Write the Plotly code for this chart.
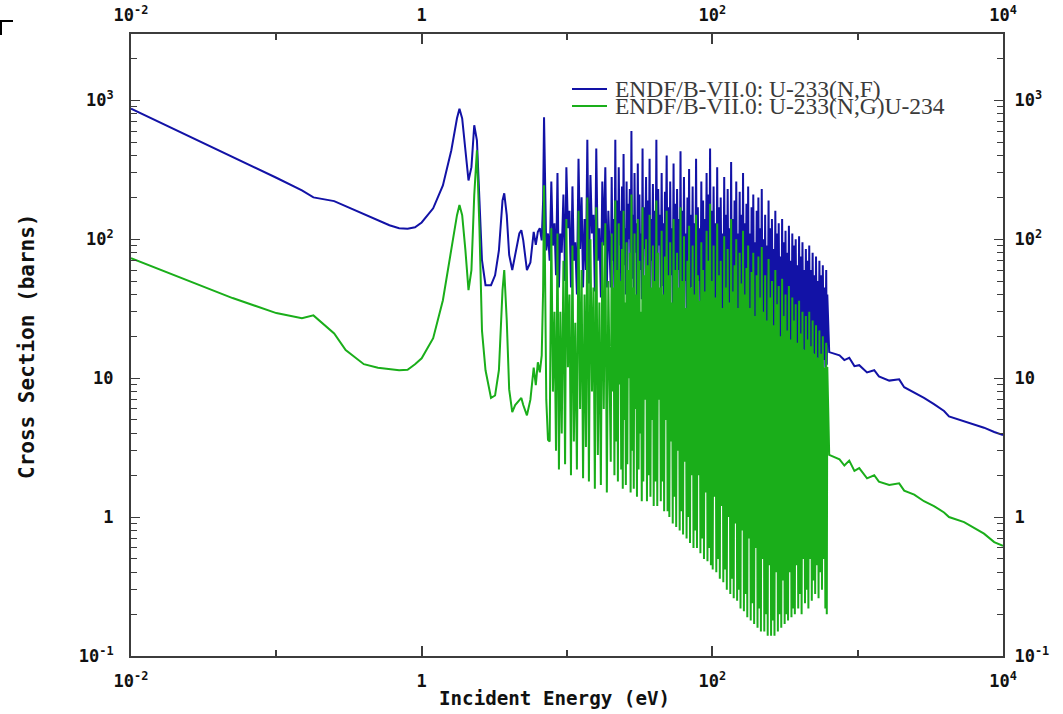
import numpy as np
import plotly.graph_objects as go

# ---- thermal / low resolved region (eV, barns) ----
low_e = [0.01, 0.02, 0.05, 0.1, 0.15, 0.18, 0.25, 0.3, 0.4, 0.5, 0.6, 0.7, 0.8, 0.9,
         1.0, 1.2, 1.4, 1.6, 1.75, 1.82, 1.9, 2.0, 2.1, 2.2, 2.3, 2.4, 2.5, 2.6, 2.75,
         3.0, 3.2, 3.4, 3.6, 3.7, 3.85, 4.0, 4.2, 4.4, 4.7, 4.85, 5.0, 5.3, 5.6, 5.9,
         6.1, 6.3, 6.5, 6.7, 6.85, 6.95, 7.05, 7.2, 7.4]
low_fission = [870, 618, 392, 277, 225, 200, 188, 173, 151, 137, 126, 120, 119, 122,
               132, 167, 244, 437, 742, 870, 740, 437, 265, 330, 661, 515, 190, 70.6, 46.7,
               46.7, 55, 83, 190, 214, 149, 77, 60, 77, 110, 116, 98, 60, 68, 113,
               91, 113, 120, 98, 190, 755, 225, 83, 110]
low_capture = [73, 55, 37.7, 29.4, 27, 28.3, 21, 15.9, 12.6, 11.9, 11.6, 11.4, 11.5, 12.6,
               13.9, 19.4, 36.4, 83, 149, 176, 149, 83, 43, 60, 207, 437, 116, 22, 11.4,
               7.2, 7.5, 11.4, 43, 60, 26, 8.3, 5.7, 6.4, 7, 7.2, 6.4, 5.4, 7, 11.9,
               8.9, 13, 11, 14.6, 43, 245, 70, 7, 3.6]

# ---- resolved resonance region (alternating minima / maxima) ----
res_e = [7.6, 7.8, 8.0, 8.2, 8.4, 8.6, 8.8, 9.0, 9.2, 9.45,
         9.7, 9.9, 10.15, 10.4, 10.65, 10.9, 11.15, 11.4, 11.7, 12.0,
         12.3, 12.6, 12.9, 13.2, 13.5, 13.8, 14.15, 14.5, 14.85, 15.2,
         15.55, 15.9, 16.3, 16.7, 17.1, 17.5, 17.9, 18.35, 18.8, 19.25,
         20.0, 20.3, 20.6, 20.9, 21.2, 21.5, 21.8, 22.1, 22.4, 22.7,
         23.0, 23.3, 23.6, 23.9, 24.2, 24.5, 24.8, 25.1, 25.4, 25.7,
         26.0, 26.35, 26.7, 27.05, 27.4, 27.75, 28.1, 28.45, 28.8, 29.15,
         29.5, 29.9, 30.3, 30.7, 31.1, 31.5, 31.9, 32.3, 32.7, 33.1,
         33.5, 34.0, 34.5, 35.0, 35.5, 36.0, 36.5, 37.0, 37.5, 38.0,
         38.5, 39.0, 39.5, 40.0, 40.6, 41.2, 41.8, 42.4, 43.0, 43.6,
         44.2, 44.8, 45.4, 46.0, 46.6, 47.2, 47.8, 48.5, 49.2, 49.9,
         50.6, 51.3, 52.0, 52.7, 53.4, 54.1, 54.8, 55.6, 56.4, 57.2,
         58.0, 58.8, 59.6, 60.4, 61.2, 62.0, 62.9, 63.8, 64.7, 65.6,
         66.5, 67.4, 68.3, 69.2, 70.2, 71.2, 72.2, 73.2, 74.2, 75.2,
         76.2, 77.3, 78.4, 79.5, 80.6, 81.7, 82.8, 84.0, 85.2, 86.4,
         87.6, 88.8, 90.0, 91.3, 92.6, 93.9, 95.2, 96.5, 97.8, 99.2,
         100.6, 102, 103.5, 105, 106.5, 108, 109.5, 111, 112.6, 114.2,
         115.8, 117.4, 119, 120.7, 122.4, 124.1, 125.8, 127.5, 129.3, 131.1,
         132.9, 134.7, 136.5, 138.4, 140.3, 142.2, 144.1, 146.1, 148.1, 150.1,
         152.1, 154.2, 156.3, 158.4, 160.5, 162.7, 164.9, 167.1, 169.4, 171.7,
         174, 176.4, 178.8, 181.2, 183.7, 186.2, 188.7, 191.3, 193.9, 196.5,
         199.2, 201.9, 204.6, 207.4, 210.2, 213, 215.9, 218.8, 221.8, 224.8,
         227.8, 230.9, 234, 237.2, 240.4, 243.7, 247, 250.3, 253.7, 257.1,
         260.6, 264.1, 267.7, 271.3, 275, 278.7, 282.5, 286.3, 290.2, 294.1,
         298.1, 302.1, 306.2, 310.3, 314.5, 318.8, 323.1, 327.5, 331.9, 336.4,
         341, 345.6, 350.3, 355, 359.8, 364.7, 369.6, 374.6, 379.7, 384.8,
         390, 395.3, 400.6, 406, 411.5, 417.1, 422.7, 428.4, 434.2, 440.1,
         446, 452, 458.1, 464.3, 470.6, 477, 483.4, 489.9, 496.5, 503.2,
         510, 516.9, 523.9, 531, 538.2, 545.5, 552.9, 560.4, 568, 575.7,
         583.5, 591.4, 599.4, 607.5, 613, 618]
res_fission = [70, 260, 90, 130, 55, 300, 45, 110, 80, 210,
               50, 330, 120, 160, 45, 240, 70, 95, 40, 380,
               85, 200, 45, 140, 60, 520, 48, 290, 110, 150,
               42, 450, 70, 120, 38, 260, 90, 330, 45, 160,
               45, 280, 70, 140, 40, 520, 55, 190, 42, 330,
               90, 160, 44, 240, 38, 410, 65, 120, 40, 260,
               48, 180, 100, 230, 39, 600, 52, 150, 41, 300,
               80, 130, 38, 350, 45, 210, 60, 110, 37, 450,
               42, 170, 85, 280, 36, 190, 48, 380, 39, 140,
               70, 250, 37, 160, 44, 520, 36, 230, 90, 150,
               38, 300, 46, 130, 35, 220, 70, 400, 36, 170,
               33, 260, 55, 120, 32, 350, 40, 180, 31, 230,
               60, 140, 30, 430, 36, 160, 29, 280, 50, 110,
               30, 200, 34, 320, 28, 150, 45, 240, 28, 130,
               32, 380, 29, 170, 50, 120, 27, 260, 31, 190,
               27, 140, 40, 300, 26, 210, 30, 450, 26, 160,
               24, 240, 35, 130, 23, 330, 26, 170, 22, 200,
               32, 110, 22, 280, 25, 150, 21, 230, 30, 120,
               21, 360, 24, 140, 20, 190, 28, 260, 20, 110,
               23, 220, 19, 150, 26, 300, 19, 130, 22, 180,
               18, 240, 25, 110, 18, 170, 21, 210, 17, 95,
               22, 160, 17, 200, 20, 120, 16, 230, 19, 100,
               16, 150, 21, 90, 16, 190, 18, 120, 15, 140,
               20, 85, 15, 160, 17, 110, 15, 130, 19, 75,
               14, 140, 17, 95, 14, 115, 16, 80, 14, 125,
               18, 70, 13, 110, 15, 90, 13, 100, 17, 65,
               13, 105, 15, 75, 13, 95, 16, 60, 12.5, 85,
               15, 70, 12.5, 90, 14, 60, 12.5, 80, 15, 55,
               12.5, 75, 14, 50, 12, 70, 14, 55, 12, 65,
               13.5, 45, 12, 60, 12.5, 40]
res_capture = [3.5, 120, 8, 30, 3.0, 110, 2.2, 30, 4.0, 70,
               2.4, 140, 12, 40, 2.0, 90, 3.5, 25, 2.2, 160,
               6, 60, 1.9, 40, 3.2, 200, 1.8, 100, 8, 45,
               1.6, 170, 2.8, 35, 1.7, 95, 6, 130, 1.5, 50,
               2.5, 110, 8, 45, 2.0, 190, 3.5, 60, 1.8, 130,
               9, 50, 2.2, 85, 1.6, 160, 5, 35, 1.7, 95,
               2.4, 60, 10, 80, 1.5, 210, 3, 45, 1.6, 110,
               6, 40, 1.4, 140, 2.2, 70, 4, 30, 1.3, 170,
               1.8, 55, 7, 100, 1.3, 65, 2, 150, 1.4, 45,
               5, 90, 1.2, 50, 1.8, 190, 1.2, 80, 7, 45,
               1.3, 115, 1.8, 40, 1.1, 75, 5, 160, 1.1, 55,
               1.0, 95, 3.5, 35, 0.9, 140, 1.4, 60, 0.85, 80,
               3, 45, 0.8, 170, 1.1, 50, 0.75, 105, 2.5, 32,
               0.7, 70, 1.0, 125, 0.65, 45, 2, 90, 0.6, 40,
               0.8, 150, 0.6, 55, 2, 36, 0.55, 95, 0.7, 60,
               0.5, 42, 1.5, 115, 0.48, 70, 0.6, 180, 0.45, 50,
               0.42, 90, 1.4, 38, 0.4, 130, 0.5, 55, 0.36, 70,
               1.2, 32, 0.34, 105, 0.42, 45, 0.3, 85, 1.0, 35,
               0.28, 140, 0.36, 42, 0.26, 65, 0.9, 100, 0.25, 32,
               0.3, 80, 0.22, 48, 0.8, 115, 0.21, 40, 0.28, 62,
               0.19, 90, 0.7, 32, 0.18, 58, 0.24, 80, 0.17, 28,
               0.6, 55, 0.16, 75, 0.22, 38, 0.15, 88, 0.5, 30,
               0.15, 55, 0.2, 26, 0.14, 72, 0.45, 38, 0.14, 50,
               0.18, 24, 0.14, 60, 0.4, 34, 0.15, 46, 0.2, 20,
               0.16, 52, 0.35, 28, 0.17, 40, 0.2, 22, 0.18, 46,
               0.4, 19, 0.19, 38, 0.22, 26, 0.2, 34, 0.45, 18,
               0.22, 36, 0.28, 21, 0.2, 30, 0.5, 16, 0.24, 28,
               0.3, 19, 0.22, 30, 0.5, 17, 0.25, 26, 0.35, 15,
               0.28, 24, 0.45, 14, 0.26, 22, 0.4, 15, 0.3, 20,
               0.5, 12, 0.22, 18, 0.2, 12]

# ---- unresolved / smooth region ----
unres_e = [637, 750, 810, 875, 950, 1025, 1160, 1300, 1400, 1650, 1930, 2090,
           2450, 2860, 3350, 3930, 4250, 5400, 6300, 7400, 8700, 10000]
unres_fission = [15.4, 14.6, 13.5, 14.0, 12.2, 12.4, 11.0, 11.4, 10.3, 9.6, 9.8, 8.6,
                 7.9, 7.2, 6.5, 5.8, 5.3, 4.9, 4.6, 4.4, 4.1, 3.9]
unres_capture = [2.8, 2.6, 2.35, 2.55, 2.15, 2.25, 1.9, 2.0, 1.8, 1.7, 1.75, 1.55,
                 1.45, 1.3, 1.2, 1.08, 1.0, 0.92, 0.84, 0.76, 0.66, 0.62]

assert len(res_e) == len(res_fission) == len(res_capture)
assert len(low_e) == len(low_fission) == len(low_capture)
assert len(unres_e) == len(unres_fission) == len(unres_capture)

energy = low_e + res_e + unres_e
sigma_fission = low_fission + res_fission + unres_fission
sigma_capture = low_capture + res_capture + unres_capture

series_names = ["ENDF/B-VII.0: U-233(N,F)", "ENDF/B-VII.0: U-233(N,G)U-234"]
series_colors = ["#1212a6", "#1aae1a"]

x_decades = [0.01, 0.1, 1, 10, 100, 1000, 10000]
x_decade_text = ["10<sup>-2</sup>", "", "1", "", "10<sup>2</sup>", "", "10<sup>4</sup>"]
x_labeled = [0.01, 1, 100, 10000]
y_decades = [0.1, 1, 10, 100, 1000]
y_decade_text = ["10<sup>-1</sup>", "1", "10", "10<sup>2</sup>", "10<sup>3</sup>"]
y_all = sorted(y_decades + [m * 10.0 ** d for d in range(-1, 3) for m in range(2, 10)] + [2000])
y_all_text = [y_decade_text[y_decades.index(v)] if v in y_decades else "" for v in y_all]

AX = "#3c3c3c"
tick_font = dict(family="DejaVu Sans Mono", size=17, color="#111111", weight="bold")
X_RANGE = [-2, 4]
Y_RANGE = [-1, np.log10(3000)]

fig = go.Figure()
fig.add_trace(go.Scatter(x=energy, y=sigma_fission, mode="lines", name=series_names[0],
                         line=dict(color=series_colors[0], width=2), showlegend=False))
fig.add_trace(go.Scatter(x=energy, y=sigma_capture, mode="lines", name=series_names[1],
                         line=dict(color=series_colors[1], width=2), showlegend=False))
# empty traces so the extra tick axes are drawn
for k in (2, 3, 4):
    fig.add_trace(go.Scatter(x=[None], y=[None], xaxis=f"x{k}", yaxis=f"y{k}",
                             showlegend=False, hoverinfo="skip"))

def x_axis(side, labels, standoff, overlay):
    d = dict(type="log", range=X_RANGE, side=side, showgrid=False, zeroline=False,
             ticks="inside", tickcolor=AX, tickwidth=1.5, tickmode="array",
             tickfont=tick_font, anchor="y", automargin=False)
    if labels:
        d.update(showline=True, linecolor=AX, linewidth=2, tickvals=x_decades,
                 ticktext=x_decade_text, ticklen=6, ticklabelstandoff=standoff)
    else:
        d.update(showline=False, tickvals=x_labeled, ticklen=10, showticklabels=False)
    if overlay:
        d["overlaying"] = "x"
    return d

def y_axis(side, labels, standoff, overlay):
    d = dict(type="log", range=Y_RANGE, side=side, showgrid=False, zeroline=False,
             ticks="inside", tickcolor=AX, tickwidth=1.3, tickmode="array",
             tickfont=tick_font, anchor="x", automargin=False)
    if labels:
        d.update(showline=True, linecolor=AX, linewidth=2, tickvals=y_all,
                 ticktext=y_all_text, ticklen=6, ticklabelstandoff=standoff)
    else:
        d.update(showline=False, tickvals=y_decades, ticklen=9, showticklabels=False)
    if overlay:
        d["overlaying"] = "y"
    return d

fig.update_layout(
    width=1063, height=714,
    margin=dict(l=131, r=60, t=34, b=58),
    paper_bgcolor="white", plot_bgcolor="white",
    xaxis=x_axis("bottom", True, 9, False),
    xaxis2=x_axis("top", True, 4, True),
    xaxis3=x_axis("bottom", False, 0, True),
    xaxis4=x_axis("top", False, 0, True),
    yaxis=y_axis("left", True, 12, False),
    yaxis2=y_axis("right", True, 6, True),
    yaxis3=y_axis("left", False, 0, True),
    yaxis4=y_axis("right", False, 0, True),
)

def px_x(p):
    return (p - 131) / 872.0

def px_y(p):
    return (656 - p) / 622.0

fig.add_annotation(text="Incident Energy (eV)", x=px_x(554.5), y=px_y(698), xref="paper",
                   yref="paper", showarrow=False, xanchor="center", yanchor="middle",
                   font=dict(family="DejaVu Sans Mono", size=19.2, color="#111111",
                             weight="bold"))
fig.add_annotation(text="Cross Section (barns)", x=px_x(27), y=px_y(346), xref="paper",
                   yref="paper", showarrow=False, xanchor="center", yanchor="middle",
                   textangle=-90,
                   font=dict(family="DejaVu Sans Mono", size=21, color="#111111",
                             weight="bold"))

# legend drawn as line samples plus labels
legend_font = dict(family="Liberation Serif", size=23.5, color="#3a3a3a")
for i, (name, col) in enumerate(zip(series_names, series_colors)):
    yy = px_y(89 + 17 * i)
    fig.add_shape(type="line", xref="paper", yref="paper", x0=px_x(572), x1=px_x(607),
                  y0=yy, y1=yy, line=dict(color=col, width=2))
    fig.add_annotation(text=name, x=px_x(613), y=yy, xref="paper", yref="paper",
                       showarrow=False, xanchor="left", yanchor="middle", font=legend_font)

# page corner mark
fig.add_shape(type="line", xref="paper", yref="paper", x0=px_x(0), x1=px_x(13),
              y0=px_y(21), y1=px_y(21), line=dict(color="black", width=2))
fig.add_shape(type="line", xref="paper", yref="paper", x0=px_x(1), x1=px_x(1),
              y0=px_y(21), y1=px_y(35), line=dict(color="black", width=2))

fig.write_html("out.html")
